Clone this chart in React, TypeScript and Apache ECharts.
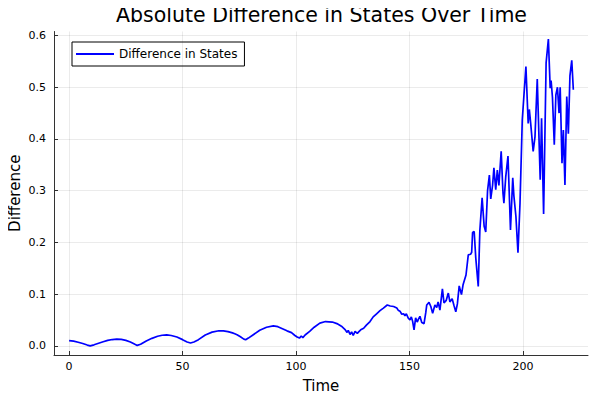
import React, { useEffect, useRef } from "react";
import * as echarts from "echarts";

const times: number[] = [
  0, 2, 4, 6, 8, 9.3, 11, 13, 15, 17, 19, 21, 23, 25, 27, 29, 30, 31.5, 34, 36.5,
  39, 41, 43, 45, 47.5, 50, 52, 53.5, 55, 57, 60, 63, 66, 68, 70, 72, 73, 74, 75.5, 77,
  77.8, 79, 81, 84, 87, 90, 92, 94, 96, 98, 99.5, 100.5, 101.5, 102.3, 103, 104, 106, 108, 110.5, 113,
  116, 118, 120, 121.5, 122.5, 123, 123.8, 124.5, 125.2, 126, 127, 127.6, 128.5, 129.8, 131, 132.6, 134, 135.5, 137, 138.5,
  140.2, 141.5, 143, 144.4, 145, 145.8, 146.6, 147.4, 148, 148.6, 149.4, 150.2, 150.8, 151.4, 152, 152.7, 153.4, 154, 154.6, 155.4,
  156.4, 157.2, 157.6, 158.6, 159.4, 160.2, 161.2, 162, 162.6, 163.4, 164.5, 165.2, 166.2, 167.1, 167.8, 168.8, 169.6, 170.4, 171.1, 171.9,
  172.9, 173.6, 174.9, 175.9, 176.9, 177.4, 177.8, 178.5, 179.2, 180.3, 181, 182, 182.9, 183.6, 184.4, 185.2, 185.8, 186.6, 187.2, 188,
  188.7, 189.4, 190.4, 191.2, 191.6, 192.4, 193.4, 194.5, 195.5, 196, 196.9, 197.8, 198.7, 199.7, 201.3, 202.3, 202.8, 203.4, 204.5, 205.3,
  206.3, 207.6, 208.2, 209.1, 210.2, 211.2, 212, 212.4, 213, 213.8, 214.5, 215.2, 215.9, 216.4, 217.2, 217.8, 218.5, 219.3, 220, 220.7,
  221.5, 222.2,
];

const differences: number[] = [
  0.01, 0.009, 0.007, 0.0045, 0.0015, 0.0, 0.002, 0.005, 0.008, 0.0105, 0.0122, 0.013, 0.0125, 0.0105, 0.0075, 0.003, 0.0008, 0.003, 0.0095, 0.0145,
  0.0185, 0.0205, 0.0212, 0.02, 0.017, 0.012, 0.0075, 0.0055, 0.0075, 0.012, 0.021, 0.0265, 0.0292, 0.029, 0.0275, 0.025, 0.0235, 0.0215, 0.0175, 0.013,
  0.0118, 0.015, 0.021, 0.03, 0.036, 0.0385, 0.037, 0.033, 0.029, 0.0255, 0.02, 0.017, 0.015, 0.019, 0.016, 0.021, 0.028, 0.036, 0.044, 0.047,
  0.046, 0.043, 0.038, 0.032, 0.026, 0.03, 0.022, 0.027, 0.02, 0.028, 0.024, 0.027, 0.031, 0.034, 0.04, 0.047, 0.056, 0.062, 0.068, 0.073,
  0.079, 0.077, 0.076, 0.073, 0.069, 0.067, 0.061, 0.062, 0.058, 0.062, 0.054, 0.05, 0.056, 0.047, 0.031, 0.054, 0.046, 0.052, 0.057, 0.045,
  0.043, 0.065, 0.079, 0.084, 0.076, 0.063, 0.079, 0.074, 0.085, 0.069, 0.11, 0.083, 0.088, 0.102, 0.085, 0.091, 0.078, 0.066, 0.081, 0.116,
  0.099, 0.118, 0.137, 0.176, 0.177, 0.181, 0.219, 0.221, 0.17, 0.115, 0.223, 0.286, 0.231, 0.22, 0.3, 0.33, 0.284, 0.31, 0.344, 0.302,
  0.34, 0.31, 0.376, 0.295, 0.276, 0.326, 0.367, 0.224, 0.325, 0.29, 0.25, 0.18, 0.276, 0.437, 0.54, 0.43, 0.457, 0.43, 0.376, 0.404,
  0.516, 0.321, 0.44, 0.255, 0.547, 0.593, 0.498, 0.513, 0.48, 0.389, 0.485, 0.5, 0.45, 0.5, 0.353, 0.417, 0.311, 0.482, 0.41, 0.522,
  0.552, 0.495,
];

const xTickValues: number[] = [0, 50, 100, 150, 200];
const yTickValues: number[] = [0, 0.1, 0.2, 0.3, 0.4, 0.5, 0.6];

const titleText = "Absolute Difference in States Over Time";
const seriesName = "Difference in States";
const xName = "Time";
const yName = "Difference";

const FONT = "DejaVu Sans";

export default function App() {
  const ref = useRef<HTMLDivElement>(null);
  useEffect(() => {
    if (!ref.current) return;
    const chart = echarts.init(ref.current, undefined, { renderer: "svg" });
    const data = times.map((t, i) => [t, differences[i]]);
    const gridColor = "rgba(0,0,0,0.08)";
    chart.setOption({
      animation: false,
      textStyle: { fontFamily: FONT },
      graphic: [
        {
          type: "text",
          x: 321.5,
          y: 15,
          z: 100,
          style: {
            text: titleText,
            fontFamily: FONT,
            fontSize: 20.5,
            fill: "#000",
            align: "center",
            verticalAlign: "middle",
          },
        },
      ],
      grid: {
        left: 54,
        right: 12,
        top: 31.5,
        bottom: 45,
        containLabel: false,
        outerBoundsMode: "none",
      },
      legend: {
        left: 72,
        top: 42,
        orient: "vertical",
        backgroundColor: "#fff",
        borderColor: "#000",
        borderWidth: 1,
        borderRadius: 0,
        padding: [6, 7, 6, 4],
        itemWidth: 38,
        itemHeight: 2,
        textStyle: { fontSize: 12, color: "#000", fontFamily: FONT },
        data: [{ name: seriesName, icon: "path://M0,0L38,0L38,2L0,2Z" }],
      },
      xAxis: {
        type: "value",
        min: -6.66,
        max: 228.66,
        name: xName,
        nameLocation: "middle",
        nameGap: 23,
        nameMoveOverlap: false,
        nameTextStyle: { fontSize: 15, color: "#000", fontFamily: FONT },
        axisLine: { show: true, onZero: false, lineStyle: { color: "#333", width: 1 } },
        axisTick: { show: true, inside: true, length: 4, customValues: xTickValues, lineStyle: { color: "#333" } },
        axisLabel: {
          customValues: xTickValues,
          fontSize: 11,
          color: "#000",
          margin: 6,
          fontFamily: FONT,
          formatter: (v: number) => String(v),
        },
        splitLine: { show: false },
      },
      yAxis: {
        type: "value",
        min: -0.0177,
        max: 0.6077,
        name: yName,
        nameLocation: "middle",
        nameGap: 32,
        nameMoveOverlap: false,
        nameTextStyle: { fontSize: 15, color: "#000", fontFamily: FONT },
        axisLine: { show: true, onZero: false, lineStyle: { color: "#333", width: 1 } },
        axisTick: { show: true, inside: true, length: 4, customValues: yTickValues, lineStyle: { color: "#333" } },
        axisLabel: {
          customValues: yTickValues,
          fontSize: 11,
          color: "#000",
          margin: 8,
          fontFamily: FONT,
          formatter: (v: number) => v.toFixed(1),
        },
        splitLine: { show: false },
      },
      series: [
        {
          name: "grid",
          type: "line",
          data: [],
          z: 1,
          silent: true,
          markLine: {
            silent: true,
            symbol: "none",
            label: { show: false },
            lineStyle: { color: gridColor, type: "solid", width: 1 },
            emphasis: { disabled: true },
            data: [
              ...xTickValues.map((v) => ({ xAxis: v })),
              ...yTickValues.map((v) => ({ yAxis: v })),
            ],
          },
        },
        {
          name: seriesName,
          type: "line",
          data,
          z: 3,
          symbol: "none",
          showSymbol: false,
          lineStyle: { color: "#0000ff", width: 1.7 },
          itemStyle: { color: "#0000ff" },
        },
      ],
    });
    return () => chart.dispose();
  }, []);
  return <div ref={ref} style={{ width: 600, height: 400, margin: -8 }} />;
}
